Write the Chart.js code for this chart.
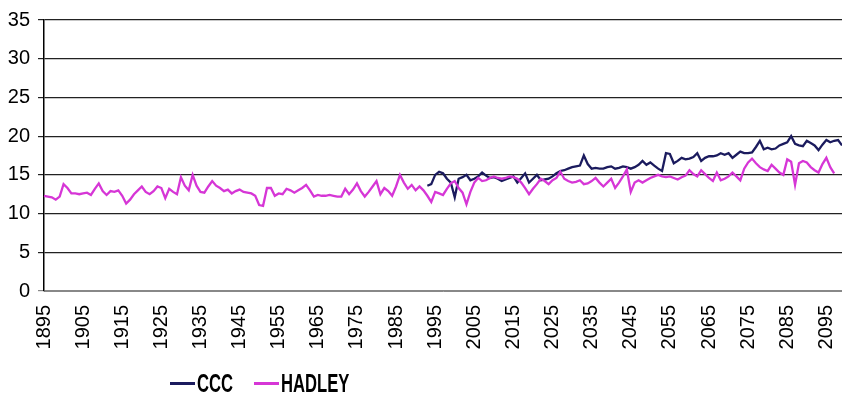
<!DOCTYPE html>
<html>
<head>
<meta charset="utf-8">
<script src="https://cdn.jsdelivr.net/npm/chart.js@4/dist/chart.umd.min.js"></script>
<style>
  body { margin: 0; background: #fff; }
  #wrap { position: relative; width: 842px; height: 396px; }
  #legend { position: absolute; left: 0; top: 370px; font-family: 'Liberation Sans', Arial, sans-serif;
            font-weight: bold; font-size: 26px; color: #000; }
  .item { position: absolute; top: 0; white-space: nowrap; }
  .swatch { position: absolute; top: 12px; height: 3px; width: 25px; }
  .label { position: absolute; left: 27px; top: 0; transform: scaleX(0.64); transform-origin: left top; line-height: 26px; }
</style>
</head>
<body>
<div id="wrap">
  <canvas id="chart" width="842" height="396"></canvas>
  <div id="legend">
    <div class="item" style="left:170px"><span class="swatch" style="background:#1b1b5e"></span><span class="label">CCC</span></div>
    <div class="item" style="left:254px"><span class="swatch" style="background:#d636d6"></span><span class="label">HADLEY</span></div>
  </div>
</div>
<script>
// HADLEY, one value per year from 1895
const hadley = [
  12.3, 12.2, 12.1, 11.8, 12.2, 13.8, 13.3, 12.6, 12.6, 12.5,
  12.6, 12.7, 12.4, 13.2, 13.9, 12.9, 12.4, 12.9, 12.8, 13.0,
  12.3, 11.3, 11.8, 12.5, 13.0, 13.5, 12.8, 12.5, 12.9, 13.5,
  13.3, 12.0, 13.2, 12.8, 12.5, 14.7, 13.6, 13.0, 15.0, 13.6,
  12.8, 12.7, 13.5, 14.2, 13.6, 13.3, 12.9, 13.1, 12.6, 12.9,
  13.1, 12.8, 12.7, 12.6, 12.3, 11.1, 11.0, 13.3, 13.3, 12.3,
  12.6, 12.5, 13.2, 13.0, 12.7, 13.0, 13.3, 13.7, 13.0, 12.2,
  12.4, 12.3, 12.3, 12.4, 12.3, 12.2, 12.2, 13.2, 12.5, 13.1,
  13.9, 12.9, 12.2, 12.8, 13.5, 14.2, 12.5, 13.3, 12.9, 12.3,
  13.5, 15.0, 14.0, 13.2, 13.7, 13.0, 13.5, 13.0, 12.3, 11.5,
  12.8, 12.6, 12.4, 13.2, 13.9, 14.2, 13.3, 12.7, 11.2, 12.8,
  14.0, 14.6, 14.2, 14.3, 14.6, 14.8, 14.6, 14.5, 14.6, 14.8,
  14.7, 14.5, 14.0, 13.3, 12.5, 13.2, 13.8, 14.5, 14.2, 13.8,
  14.3, 14.6, 15.4, 14.5, 14.2, 14.0, 14.1, 14.3, 13.8, 13.9,
  14.2, 14.6, 14.0, 13.5, 14.0, 14.5, 13.3, 14.0, 14.8, 15.7,
  12.8, 14.0, 14.3, 14.0, 14.3, 14.6, 14.8, 15.0, 14.8, 14.7,
  14.8, 14.6, 14.4, 14.7, 14.9, 15.6, 15.1, 14.8, 15.6, 15.1,
  14.6, 14.2, 15.3, 14.3, 14.5, 14.8, 15.3, 14.8, 14.3, 15.8,
  16.6, 17.1, 16.5, 16.0, 15.7, 15.5, 16.3, 15.8, 15.3, 15.0,
  17.0, 16.7, 13.7, 16.5, 16.8, 16.6, 16.0, 15.6, 15.3, 16.4,
  17.2, 16.0, 15.2, null, null
];

// CCC starts later
const cccStart = 1993;
const ccc = [
  13.6, 13.8,
  15.0, 15.4, 15.2, 14.5, 14.0, 12.1, 14.5, 14.7, 15.0, 14.3,
  14.5, 14.8, 15.3, 14.9, 14.6, 14.7, 14.5, 14.2, 14.4, 14.6,
  14.8, 14.0, 14.6, 15.2, 14.0, 14.5, 15.0, 14.3, 14.4, 14.5,
  14.8, 15.2, 15.5, 15.6, 15.8, 16.0, 16.1, 16.2, 17.5, 16.4,
  15.8, 15.9, 15.8, 15.8, 16.0, 16.1, 15.8, 15.9, 16.1, 16.0,
  15.8, 16.0, 16.3, 16.8, 16.3, 16.6, 16.2, 15.8, 15.5, 17.8,
  17.7, 16.5, 16.8, 17.2, 17.0, 17.1, 17.3, 17.8, 16.8, 17.2,
  17.4, 17.4, 17.5, 17.8, 17.6, 17.8, 17.2, 17.6, 18.0, 17.8,
  17.8, 17.9, 18.6, 19.4, 18.3, 18.5, 18.3, 18.4, 18.8, 19.0,
  19.2, 20.0, 19.0, 18.8, 18.7, 19.4, 19.1, 18.8, 18.2, 18.9,
  19.5, 19.2, 19.4, 19.5, 18.8
];

const firstYear = 1895;
const years = hadley.map((_, i) => String(firstYear + i));
const yTicks = [0, 5, 10, 15, 20, 25, 30, 35];

const cccData = years.map(y => {
  const i = Number(y) - cccStart;
  return i >= 0 && i < ccc.length ? ccc[i] : null;
});

const font = 'Liberation Sans, Arial, sans-serif';

new Chart(document.getElementById('chart'), {
  type: 'line',
  data: {
    labels: years,
    datasets: [
      {
        label: 'HADLEY',
        data: hadley,
        borderColor: '#d636d6',
        borderWidth: 2.3,
        pointRadius: 0,
        tension: 0
      },
      {
        label: 'CCC',
        data: cccData,
        borderColor: '#1b1b5e',
        borderWidth: 2.3,
        pointRadius: 0,
        tension: 0
      }
    ]
  },
  options: {
    responsive: false,
    animation: false,
    layout: { padding: { top: 19, right: 0, left: 0, bottom: 0 } },
    plugins: {
      legend: { display: false },
      tooltip: { enabled: false }
    },
    scales: {
      x: {
        offset: false,
        grid: { display: false, drawTicks: false },
        border: { display: true, color: '#888', width: 1 },
        ticks: {
          autoSkip: false,
          maxRotation: 90,
          minRotation: 90,
          padding: 14,
          color: '#000',
          font: { family: font, size: 20 },
          callback: function (value, index) {
            return index % 10 === 0 ? this.getLabelForValue(value) : '';
          }
        },
        afterFit: scale => {
          scale.height = 105;
          scale.paddingLeft = 0;
          scale.paddingRight = 0;
        }
      },
      y: {
        min: 0,
        max: 35,
        afterBuildTicks: scale => { scale.ticks = yTicks.map(v => ({ value: v })); },
        grid: {
          color: ctx => ctx.tick && ctx.tick.value === 0 ? '#888' : '#222',
          lineWidth: 1.2,
          tickLength: 6
        },
        border: { display: true, color: '#000', width: 1.5 },
        ticks: {
          padding: 8,
          color: '#000',
          font: { family: font, size: 20 }
        },
        afterFit: scale => { scale.width = 44; }
      }
    }
  }
});
</script>
</body>
</html>
